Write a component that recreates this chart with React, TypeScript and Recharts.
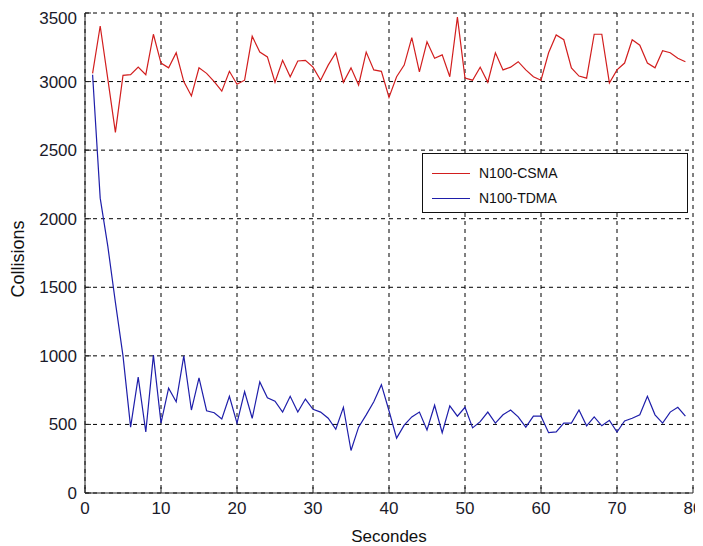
import React from 'react'
import { LineChart, Line, CartesianGrid, XAxis, YAxis, Legend } from 'recharts'

// seconds on the x axis
const seconds = [
  1, 2, 3, 4, 5, 6, 7, 8, 9, 10, 11, 12, 13, 14, 15, 16, 17, 18, 19, 20,
  21, 22, 23, 24, 25, 26, 27, 28, 29, 30, 31, 32, 33, 34, 35, 36, 37, 38, 39, 40,
  41, 42, 43, 44, 45, 46, 47, 48, 49, 50, 51, 52, 53, 54, 55, 56, 57, 58, 59, 60,
  61, 62, 63, 64, 65, 66, 67, 68, 69, 70, 71, 72, 73, 74, 75, 76, 77, 78, 79,
]

const csma = [
  3060, 3405, 3020, 2630, 3045, 3050, 3105, 3050, 3345, 3135, 3100, 3210, 3000, 2895, 3100, 3060, 3000, 2930, 3075, 2980,
  3010, 3330, 3215, 3180, 2995, 3155, 3035, 3150, 3155, 3105, 3010, 3120, 3210, 2995, 3100, 2975, 3215, 3085, 3075, 2885,
  3035, 3120, 3320, 3070, 3290, 3170, 3195, 3035, 3470, 3025, 3010, 3105, 2995, 3210, 3085, 3105, 3145, 3085, 3035, 3010,
  3210, 3340, 3305, 3100, 3040, 3025, 3345, 3345, 2990, 3085, 3135, 3305, 3265, 3135, 3100, 3225, 3210, 3170, 3145,
]

const tdma = [
  3050, 2150, 1800, 1390, 1000, 480, 845, 445, 1005, 510, 765, 665, 1000, 605, 840, 600, 585, 540, 705, 510,
  740, 545, 810, 695, 670, 590, 705, 590, 685, 610, 590, 545, 465, 625, 310, 480, 570, 665, 790, 600,
  400, 495, 555, 590, 460, 640, 440, 635, 560, 625, 475, 520, 590, 510, 570, 605, 555, 480, 560, 560,
  440, 445, 510, 510, 605, 490, 555, 490, 530, 445, 525, 545, 570, 705, 570, 510, 590, 625, 560,
]

const xTicks = [0, 10, 20, 30, 40, 50, 60, 70, 80]
const yTicks = [0, 500, 1000, 1500, 2000, 2500, 3000, 3500]

const data = seconds.map((t, i) => ({ t, csma: csma[i], tdma: tdma[i] }))

const FONT = '"Liberation Sans", Arial, sans-serif'
const RED = '#d21e1e'
const BLUE = '#1e1eaa'

const LegendBox = () => (
  <div
    style={{
      width: 266,
      height: 60,
      boxSizing: 'border-box',
      border: '1px solid #111',
      background: '#fff',
      fontFamily: FONT,
      fontSize: 14,
      color: '#111',
      paddingTop: 9,
    }}
  >
    {[
      { name: 'N100-CSMA', color: RED },
      { name: 'N100-TDMA', color: BLUE },
    ].map((it) => (
      <div key={it.name} style={{ display: 'flex', alignItems: 'center', height: 20, marginBottom: 5 }}>
        <span style={{ display: 'inline-block', width: 38, height: 0, borderTop: `1px solid ${it.color}`, marginLeft: 9, marginRight: 9 }} />
        <span>{it.name}</span>
      </div>
    ))}
  </div>
)

const App = () => {
  return (
    <div style={{ width: 720, height: 538 }}>
      <style>{'html, body { overflow: hidden; } svg.recharts-surface { overflow: visible !important; }'}</style>
      <LineChart width={720} height={538} data={data} margin={{ top: 5, right: 35, bottom: 0, left: 0 }}>
        <CartesianGrid stroke="#000" strokeDasharray="4 4" />
        <XAxis
          dataKey="t"
          type="number"
          domain={[0, 80]}
          ticks={xTicks}
          height={53}
          stroke="#222"
          tickSize={-6}
          tickMargin={15}
          tick={{ fill: '#1a1a2a', fontSize: 17, fontFamily: FONT }}
          label={{ value: 'Secondes', position: 'insideBottom', offset: 4, fill: '#111', fontSize: 17, fontFamily: FONT }}
        />
        <XAxis xAxisId="top" orientation="top" dataKey="t" type="number" domain={[0, 80]} height={0} tick={false} tickLine={false} stroke="#222" />
        <YAxis
          domain={[0, 3500]}
          ticks={yTicks}
          width={77}
          stroke="#222"
          tickSize={-6}
          tickMargin={14}
          tick={{ fill: '#1a1a2a', fontSize: 17, fontFamily: FONT }}
          label={{ value: 'Collisions', angle: -90, position: 'insideLeft', offset: 10, dy: 6, fill: '#111', fontSize: 18, fontFamily: FONT, style: { textAnchor: 'middle' } }}
        />
        <YAxis yAxisId="right" orientation="right" domain={[0, 3500]} width={0} tick={false} tickLine={false} stroke="#222" />
        <Legend
          layout="horizontal"
          verticalAlign="middle"
          align="center"
          content={<LegendBox />}
          wrapperStyle={{ position: 'absolute', left: 414, top: 145, width: 266, height: 60 }}
        />
        <Line type="linear" dataKey="csma" name="N100-CSMA" stroke={RED} strokeWidth={1.2} dot={false} isAnimationActive={false} />
        <Line type="linear" dataKey="tdma" name="N100-TDMA" stroke={BLUE} strokeWidth={1.2} dot={false} isAnimationActive={false} />
      </LineChart>
    </div>
  )
}

export default App
